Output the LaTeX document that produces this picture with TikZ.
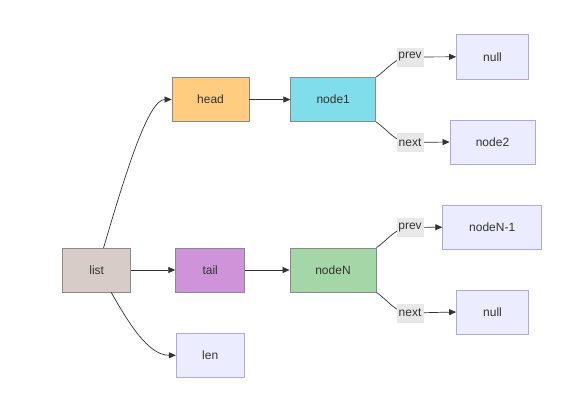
\documentclass[tikz,border=0pt]{standalone}
\usepackage{fontspec}
\setmainfont{Liberation Sans}
\usetikzlibrary{arrows.meta}
\definecolor{txt}{HTML}{333333}
\definecolor{edgec}{HTML}{333333}
\definecolor{defFill}{HTML}{ECECFF}
\definecolor{defDraw}{HTML}{B3A6E8}
\definecolor{listFill}{HTML}{D7CCC8}
\definecolor{headFill}{HTML}{FFCC80}
\definecolor{nodeOneFill}{HTML}{80DEEA}
\definecolor{tailFill}{HTML}{CE93D8}
\definecolor{nodeNFill}{HTML}{A5D6A7}
\definecolor{grayDraw}{HTML}{8A8A8A}
\definecolor{lblFill}{HTML}{E8E8E8}
\tikzset{
  box/.style={draw, line width=0.8pt, minimum height=44pt, inner sep=0pt, font=\fontsize{12}{14}\selectfont, text=txt},
  defbox/.style={box, fill=defFill, draw=defDraw},
  colbox/.style={box, draw=grayDraw},
  lbl/.style={fill=lblFill, inner sep=1.5pt, minimum height=19pt, minimum width=27pt, font=\fontsize{12}{14}\selectfont, text=txt},
  conn/.style={draw=edgec, line width=0.7pt},
  arr/.style={conn, -{Triangle[length=7pt,width=6pt]}}
}
\begin{document}
\begin{tikzpicture}[x=1pt,y=-1pt]
\useasboundingbox (0,0) rectangle (569,413);
% nodes
\node[colbox, fill=listFill, minimum width=68pt] (list) at (96.7,270) {list};
\node[colbox, fill=headFill, minimum width=77pt] (head) at (210.5,99.5) {head};
\node[colbox, fill=nodeOneFill, minimum width=85pt] (node1) at (333.2,99.5) {node1};
\node[colbox, fill=tailFill, minimum width=69pt] (tail) at (210.2,270) {tail};
\node[colbox, fill=nodeNFill, minimum width=86pt] (nodeN) at (333,270) {nodeN};
\node[defbox, minimum width=68pt] (len) at (210.2,355.3) {len};
\node[defbox, minimum width=72pt, minimum height=45pt] (null1) at (492.5,56.8) {null};
\node[defbox, minimum width=85pt] (node2) at (492.5,142) {node2};
\node[defbox, minimum width=99pt] (nodeNm) at (492.2,227.2) {nodeN-1};
\node[defbox, minimum width=72pt] (null2) at (492.5,312) {null};
% edge labels positions
\coordinate (p1) at (410,57);
\coordinate (n1) at (410,142.5);
\coordinate (p2) at (410,227.5);
\coordinate (n2) at (410,313);
% edges
\draw[arr] (list.east) -- (tail.west);
\draw[arr] (head.east) -- (node1.west);
\draw[arr] (tail.east) -- (nodeN.west);
\coordinate (lt) at (103.5,248);
\coordinate (lb) at (111,292);
\draw[arr] (lt) .. controls (125,175) and (148,99.5) .. (head.west);
\draw[arr] (lb) .. controls (128,322) and (148,355.3) .. (len.west);
\draw[arr] (node1.north east) .. controls (388,69) and (395,57) .. (p1) -- (null1.west);
\draw[arr] (node1.south east) .. controls (388,130) and (395,142.5) .. (n1) -- (node2.west);
\draw[arr] (nodeN.north east) .. controls (388,240) and (395,227.5) .. (p2) -- (nodeNm.west);
\draw[arr] (nodeN.south east) .. controls (388,300) and (395,313) .. (n2) -- (null2.west);
\node[lbl] (lp1) at (p1) {prev};
\node[lbl] (ln1) at (n1) {next};
\node[lbl] (lp2) at (p2) {prev};
\node[lbl] (ln2) at (n2) {next};
\end{tikzpicture}
\end{document}
